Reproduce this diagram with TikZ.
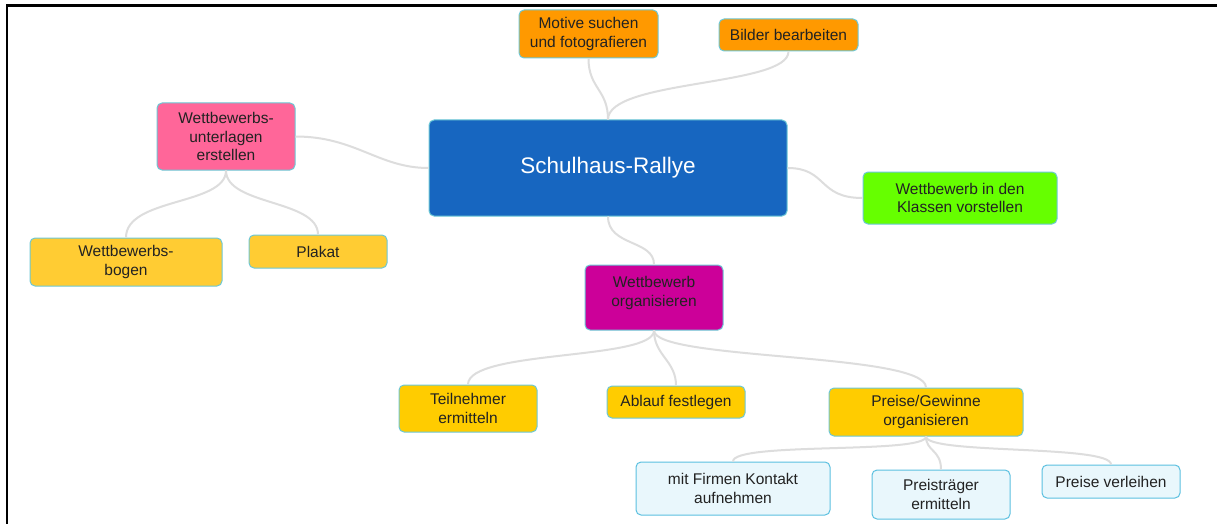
\documentclass[tikz,border=0pt]{standalone}
\usepackage{fontspec}
\setmainfont{Liberation Sans}
\definecolor{cblue}{HTML}{1766C0}
\definecolor{corange}{HTML}{FF9900}
\definecolor{cpink}{HTML}{FF6699}
\definecolor{cyellowA}{HTML}{FFCC33}
\definecolor{cyellowB}{HTML}{FFCC00}
\definecolor{cgreen}{HTML}{66FF00}
\definecolor{cmagenta}{HTML}{CC0099}
\definecolor{clight}{HTML}{E9F7FC}
\definecolor{cborder}{HTML}{6CC8D6}
\definecolor{clightborder}{HTML}{5BC0E0}
\definecolor{cline}{HTML}{DDDDDD}
\definecolor{ctext}{HTML}{222222}
\tikzset{
  box/.style={rounded corners=5pt, draw=cborder, line width=1pt, align=center,
    inner sep=0pt, text=ctext, font=\fontsize{15.5}{18.5}\selectfont},
  lightbox/.style={box, fill=clight, draw=clightborder},
  conn/.style={draw=cline, line width=2pt},
}
\begin{document}
\begin{tikzpicture}[x=1pt,y=-1pt]
\useasboundingbox (0,0) rectangle (1217,524);
\fill[white] (0,0) rectangle (1217,524);
\draw[line width=2.5pt, black] (7,524) -- (7,5.5) -- (1217,5.5);

\node[box, fill=cblue, text=white, font=\fontsize{22.5}{27}\selectfont,
  minimum width=358pt, minimum height=96pt] (sr) at (608,168) {Schulhaus-Rallye};
\node[box, fill=corange, minimum width=139pt, minimum height=48pt] (mo) at (588.5,34) {Motive suchen\\und fotografieren};
\node[box, fill=corange, minimum width=139pt, minimum height=32pt] (bb) at (788.5,35) {Bilder bearbeiten};
\node[box, fill=cpink, minimum width=138pt, minimum height=67pt] (wu) at (226,136.5) {Wettbewerbs-\\unterlagen\\erstellen};
\node[box, fill=cyellowA, minimum width=192pt, minimum height=48pt] (wb) at (126,262) {Wettbewerbs-\\bogen};
\node[box, fill=cyellowA, minimum width=138pt, minimum height=33pt] (pl) at (318,251.5) {Plakat};
\node[box, fill=cgreen, minimum width=194pt, minimum height=52pt] (gr) at (960,198) {Wettbewerb in den\\Klassen vorstellen};
\node[box, fill=cmagenta, minimum width=138pt, minimum height=65pt] (wo) at (654,297.5) {Wettbewerb\\organisieren\\[-6pt]};
\node[box, fill=cyellowB, minimum width=138pt, minimum height=47pt] (tn) at (468,408.5) {Teilnehmer\\ermitteln};
\node[box, fill=cyellowB, minimum width=138pt, minimum height=32pt] (ab) at (676,402) {Ablauf festlegen};
\node[box, fill=cyellowB, minimum width=194pt, minimum height=48pt] (pg) at (926,412) {Preise/Gewinne\\organisieren};
\node[lightbox, minimum width=194pt, minimum height=53pt] (mf) at (733,488.5) {mit Firmen Kontakt\\aufnehmen};
\node[lightbox, minimum width=138pt, minimum height=49pt] (pt) at (941,494.5) {Preisträger\\ermitteln};
\node[lightbox, minimum width=138pt, minimum height=33pt] (pv) at (1111,481.5) {Preise verleihen};

\path[conn] (sr.north) .. controls +(0,-30) and +(0,30) .. (mo.south);
\path[conn] (sr.north) .. controls +(0,-40) and +(0,35) .. (bb.south);
\path[conn] (sr.west) .. controls +(-50,0) and +(60,0) .. (wu.east);
\path[conn] (wu.south) .. controls +(0,35) and +(0,-40) .. (wb.north);
\path[conn] (wu.south) .. controls +(0,35) and +(0,-35) .. (pl.north);
\path[conn] (sr.east) .. controls +(40,0) and +(-45,0) .. (gr.west);
\path[conn] (sr.south) .. controls +(0,30) and +(0,-25) .. (wo.north);
\path[conn] (wo.south) .. controls +(0,30) and +(0,-35) .. (tn.north);
\path[conn] (wo.south) .. controls +(0,25) and +(0,-25) .. (ab.north);
\path[conn] (wo.south) .. controls +(0,30) and +(0,-35) .. (pg.north);
\path[conn] (pg.south) .. controls +(0,18) and +(0,-20) .. (mf.north);
\path[conn] (pg.south) .. controls +(0,15) and +(0,-20) .. (pt.north);
\path[conn] (pg.south) .. controls +(0,18) and +(0,-20) .. (pv.north);
\end{tikzpicture}
\end{document}
